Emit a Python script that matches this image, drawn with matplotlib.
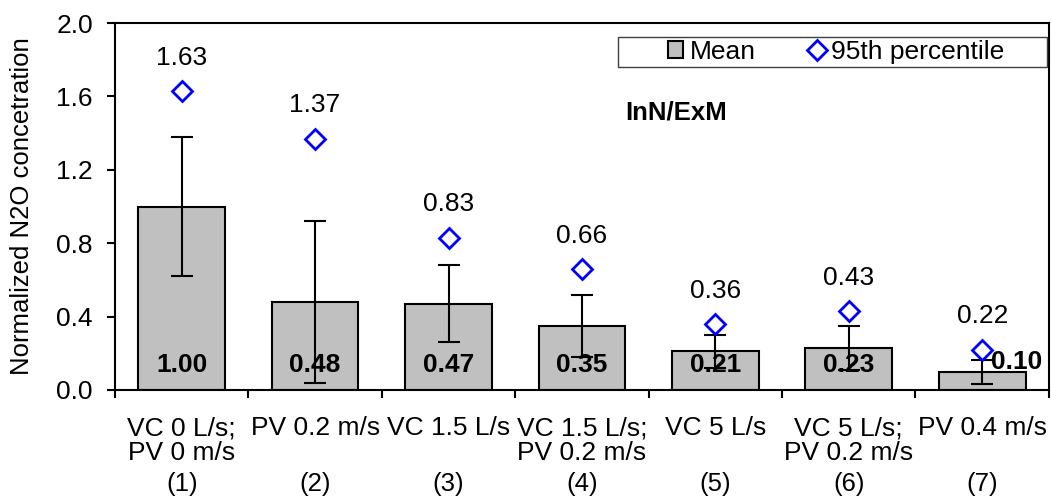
import numpy as np
import matplotlib
matplotlib.use('Agg')
import matplotlib.pyplot as plt
from matplotlib.lines import Line2D
from matplotlib.patches import Patch, Rectangle

plt.rcParams['font.family'] = ['Liberation Sans', 'DejaVu Sans']

# data
labels = ['VC 0 L/s;\nPV 0 m/s', 'PV 0.2 m/s', 'VC 1.5 L/s', 'VC 1.5 L/s;\nPV 0.2 m/s',
          'VC 5 L/s', 'VC 5 L/s;\nPV 0.2 m/s', 'PV 0.4 m/s']
case_ids = ['(1)', '(2)', '(3)', '(4)', '(5)', '(6)', '(7)']
mean = [1.00, 0.48, 0.47, 0.35, 0.21, 0.23, 0.10]
err = [0.38, 0.44, 0.21, 0.17, 0.09, 0.12, 0.065]
p95 = [1.63, 1.37, 0.83, 0.66, 0.36, 0.43, 0.22]

x = np.arange(len(mean))
fs = 19

fig = plt.figure(figsize=(10.51, 4.97), dpi=100)
ax = fig.add_axes([0.1094, 0.2153, 0.8886, 0.7384])

ax.bar(x, mean, width=0.65, color='#C0C0C0', edgecolor='black', linewidth=1.5, zorder=2)
ax.errorbar(x, mean, yerr=err, fmt='none', ecolor='black', elinewidth=1.5,
            capsize=8, capthick=1.5, zorder=3)
ax.plot(x, p95, ls='none', marker='D', markersize=10, mfc='white', mec='blue', mew=2, zorder=4)

# labels for the 95th percentile
for xi, v in zip(x, p95):
    ax.annotate(f'{v:.2f}', (xi, v), xytext=(0, 24), textcoords='offset points',
                ha='center', va='center', fontsize=fs)

# bold mean labels inside the bars (last one sits beside its bar)
for xi, v in zip(x, mean):
    if xi == len(mean) - 1:
        ax.text(xi + 0.26, 0.15, f'{v:.2f}', ha='center', va='center',
                fontsize=fs, fontweight='bold', zorder=5)
    else:
        ax.text(xi, 0.136, f'{v:.2f}', ha='center', va='center',
                fontsize=fs, fontweight='bold', zorder=5)

ax.text(3.705, 1.51, 'InN/ExM', ha='center', va='center', fontsize=18.5, fontweight='bold')

ax.set_xlim(-0.5, len(mean) - 0.5)
ax.set_ylim(0, 2.0)
yt = np.arange(0, 2.01, 0.4)
ax.set_yticks(yt)
ax.set_yticklabels([f'{t:.1f}' for t in yt], fontsize=fs)
ax.set_ylabel('Normalized N2O concetration', fontsize=18.5, va='center')
ax.yaxis.set_label_coords(-0.0996, 0.5)

# ticks between categories, labels at the centres
ax.set_xticks(np.arange(-0.5, len(mean), 1.0))
ax.set_xticklabels([])
ax.set_xticks(x, minor=True)
ax.set_xticklabels(labels, minor=True, fontsize=fs, linespacing=1.05)
ax.tick_params(axis='x', which='minor', length=0, pad=19)
ax.tick_params(axis='x', which='major', direction='out', length=6, width=1.5)
ax.tick_params(axis='y', direction='out', length=6, width=1.5, pad=10)
for s in ax.spines.values():
    s.set_linewidth(1.5)

for xi, cid in zip(x, case_ids):
    ax.annotate(cid, (xi, 0), xycoords=('data', 'axes fraction'), xytext=(0, -67.5),
                textcoords='offset points', ha='center', va='center', fontsize=18.5)

# legend: entries without frame, framed by a separate wide box
handles = [Patch(facecolor='#C0C0C0', edgecolor='black', linewidth=1.5),
           Line2D([], [], ls='none', marker='D', markersize=10, mfc='white', mec='blue', mew=2)]
ax.legend(handles, ['Mean', '95th percentile'], ncol=2, loc='center',
          bbox_to_anchor=(0.772, 0.921), fontsize=fs, frameon=False,
          handlelength=0.6, handleheight=0.6, handletextpad=0.25, columnspacing=2.0,
          borderpad=0, borderaxespad=0)
ax.add_patch(Rectangle((0.5385, 0.880), 0.4594, 0.082, transform=ax.transAxes,
                       facecolor='none', edgecolor='#404040', linewidth=1.0, zorder=6))

fig.savefig('out.png', dpi=100)
